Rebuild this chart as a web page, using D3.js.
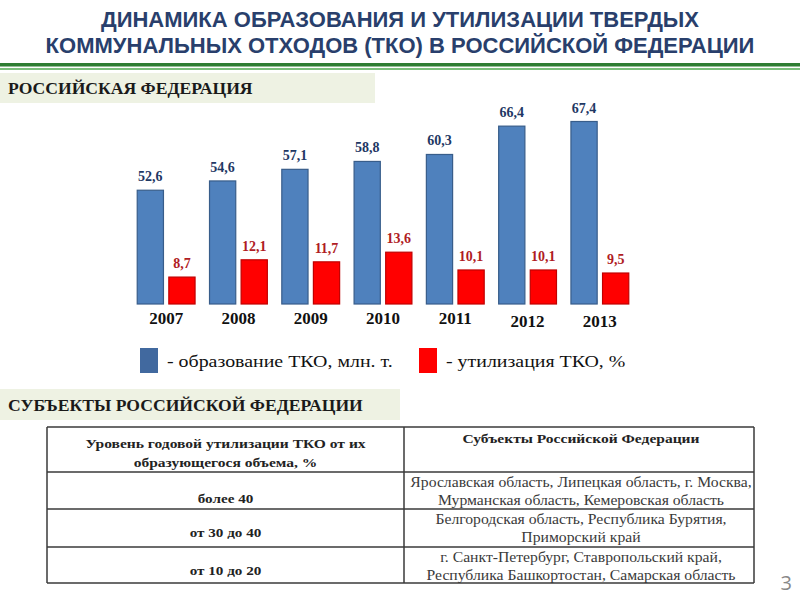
<!DOCTYPE html>
<html>
<head>
<meta charset="utf-8">
<script src="https://d3js.org/d3.v7.min.js"></script>
<style>
  body { margin: 0; background: #fff; }
  svg { display: block; }
</style>
</head>
<body>
<div id="chart"></div>
<script>
// chart data
var years = ['2007', '2008', '2009', '2010', '2011', '2012', '2013']
var formation = [52.6, 54.6, 57.1, 58.8, 60.3, 66.4, 67.4]   // образование ТКО, млн. т.
var utilization = [8.7, 12.1, 11.7, 13.6, 10.1, 10.1, 9.5]   // утилизация ТКО, %

var titleLines = ['ДИНАМИКА ОБРАЗОВАНИЯ И УТИЛИЗАЦИИ ТВЕРДЫХ', 'КОММУНАЛЬНЫХ ОТХОДОВ (ТКО) В РОССИЙСКОЙ ФЕДЕРАЦИИ']
var legendLabels = ['- образование ТКО, млн. т.', '- утилизация ТКО, %']

// table
var tableHead = [['Уровень годовой утилизации ТКО от их', 'образующегося объема, %'], ['Субъекты Российской Федерации']]
var levels = ['более 40', 'от 30 до 40', 'от 10 до 20']
var regions = [
  ['Ярославская область, Липецкая область, г. Москва,', 'Мурманская область, Кемеровская область'],
  ['Белгородская область, Республика Бурятия,', 'Приморский край'],
  ['г. Санкт-Петербург, Ставропольский край,', 'Республика Башкортостан, Самарская область']
]

var width = 800
var height = 600
var serif = '"Liberation Serif", "Times New Roman", serif'

var svg = d3.select('#chart').append('svg')
  .attr('width', width)
  .attr('height', height)

// the slide text is a bit wider than plain Times, widen it by factor k
function stretch (sel, k) {
  sel.each(function () {
    var w = this.getComputedTextLength()
    d3.select(this).attr('textLength', w * k).attr('lengthAdjust', 'spacingAndGlyphs')
  })
}

// title
svg.append('g').selectAll('text')
  .data(titleLines)
  .enter().append('text')
  .attr('x', 400)
  .attr('y', function (d, i) { return 27 + i * 26 })
  .attr('text-anchor', 'middle')
  .style('font-family', '"Liberation Sans Narrow", "Arial Narrow", sans-serif')
  .style('font-weight', 'bold')
  .style('font-size', '22px')
  .style('fill', '#293f6c')
  .text(function (d) { return d })

// green rule under the title
svg.append('rect').attr('x', 0).attr('y', 63).attr('width', width).attr('height', 3.5).attr('fill', '#2e7d32')
svg.append('rect').attr('x', 0).attr('y', 68).attr('width', width).attr('height', 2).attr('fill', '#7bbf7b')

// section headers
function sectionBox (y, w, h, label) {
  svg.append('rect')
    .attr('x', 0).attr('y', y)
    .attr('width', w).attr('height', h)
    .attr('fill', '#eef2e3')
  svg.append('text')
    .attr('x', 8)
    .attr('y', y + h / 2 + 6)
    .style('font-family', serif)
    .style('font-weight', 'bold')
    .style('font-size', '17px')
    .style('fill', '#1a1a1a')
    .text(label)
    .call(stretch, 1.035)
}
sectionBox(73, 375, 30, 'РОССИЙСКАЯ ФЕДЕРАЦИЯ')
sectionBox(389, 400, 31, 'СУБЪЕКТЫ РОССИЙСКОЙ ФЕДЕРАЦИИ')

// bar chart
var baseY = 304

var x0 = d3.scaleBand()
  .domain(years)
  .range([130, 636])
  .paddingInner(0.2)
  .paddingOuter(0.1)

var x1 = d3.scaleBand()
  .domain(['f', 'u'])
  .range([0, x0.bandwidth()])
  .paddingInner(0.17)

// two value axes, neither starts at zero
var yF = d3.scaleLinear().domain([28.1, 67.4]).range([baseY, baseY - 182.5])
var yU = d3.scaleLinear().domain([3.4, 13.6]).range([baseY, baseY - 51.8])

var rows = years.map(function (y, i) {
  return { year: y, f: formation[i], u: utilization[i] }
})

var groups = svg.append('g').selectAll('.group')
  .data(rows)
  .enter().append('g')
  .attr('class', 'group')
  .attr('transform', function (d) { return 'translate(' + x0(d.year) + ',0)' })

groups.append('rect')
  .attr('x', x1('f'))
  .attr('y', function (d) { return yF(d.f) })
  .attr('width', x1.bandwidth())
  .attr('height', function (d) { return baseY - yF(d.f) })
  .attr('fill', '#4f81bd')
  .attr('stroke', '#385d8a')
  .attr('stroke-width', 1.2)

groups.append('rect')
  .attr('x', x1('u'))
  .attr('y', function (d) { return yU(d.u) })
  .attr('width', x1.bandwidth())
  .attr('height', function (d) { return baseY - yU(d.u) })
  .attr('fill', '#ff0000')
  .attr('stroke', '#c00000')
  .attr('stroke-width', 1.2)

var fmt = function (v) { return d3.format('.1f')(v).replace('.', ',') }

groups.append('text')
  .attr('x', x1('f') + x1.bandwidth() / 2)
  .attr('y', function (d) { return yF(d.f) - 9 })
  .attr('text-anchor', 'middle')
  .style('font-family', serif)
  .style('font-weight', 'bold')
  .style('font-size', '14px')
  .style('fill', '#1f3864')
  .text(function (d) { return fmt(d.f) })

groups.append('text')
  .attr('x', x1('u') + x1.bandwidth() / 2)
  .attr('y', function (d) { return yU(d.u) - 9 })
  .attr('text-anchor', 'middle')
  .style('font-family', serif)
  .style('font-weight', 'bold')
  .style('font-size', '14px')
  .style('fill', '#b01c24')
  .text(function (d) { return fmt(d.u) })

// year labels
groups.append('text')
  .attr('x', x0.bandwidth() / 2)
  .attr('y', function (d, i) { return i > 4 ? 327 : 324 })
  .attr('text-anchor', 'middle')
  .style('font-family', serif)
  .style('font-weight', 'bold')
  .style('font-size', '17px')
  .style('fill', '#111')
  .text(function (d) { return d.year })

// legend
var legend = svg.append('g').selectAll('.legend')
  .data(legendLabels)
  .enter().append('g')
  .attr('class', 'legend')
  .attr('transform', function (d, i) { return 'translate(' + (i === 0 ? 140 : 419) + ',348)' })

legend.append('rect')
  .attr('width', 18)
  .attr('height', 25)
  .attr('fill', function (d, i) { return i === 0 ? '#41699f' : '#ff0000' })

legend.append('text')
  .attr('x', 27)
  .attr('y', 19)
  .style('font-family', serif)
  .style('font-size', '17px')
  .style('fill', '#111')
  .text(function (d) { return d })
  .call(stretch, 1.17)

// table
var tX = [47, 404, 754]
var tY = [427, 472, 509, 547, 583]
var table = svg.append('g')
var lineColor = '#3a3a3a'

tY.forEach(function (y) {
  table.append('line')
    .attr('x1', tX[0]).attr('x2', tX[2])
    .attr('y1', y).attr('y2', y)
    .attr('stroke', lineColor).attr('stroke-width', 1.5)
})
tX.forEach(function (x) {
  table.append('line')
    .attr('x1', x).attr('x2', x)
    .attr('y1', tY[0]).attr('y2', tY[tY.length - 1])
    .attr('stroke', lineColor).attr('stroke-width', 1.5)
})

var cx1 = (tX[0] + tX[1]) / 2
var cx2 = (tX[1] + tX[2]) / 2 + 2

table.selectAll('.head1')
  .data(tableHead[0])
  .enter().append('text')
  .attr('x', cx1)
  .attr('y', function (d, i) { return 448 + i * 19 })
  .attr('text-anchor', 'middle')
  .style('font-family', serif)
  .style('font-weight', 'bold')
  .style('font-size', '13.5px')
  .style('fill', '#222')
  .text(function (d) { return d })
  .call(stretch, 1.15)

table.selectAll('.head2')
  .data(tableHead[1])
  .enter().append('text')
  .attr('x', cx2)
  .attr('y', 443)
  .attr('text-anchor', 'middle')
  .style('font-family', serif)
  .style('font-weight', 'bold')
  .style('font-size', '13.5px')
  .style('fill', '#222')
  .text(function (d) { return d })
  .call(stretch, 1.15)

var levelY = [503, 537, 575]
table.selectAll('.level')
  .data(levels)
  .enter().append('text')
  .attr('x', cx1)
  .attr('y', function (d, i) { return levelY[i] })
  .attr('text-anchor', 'middle')
  .style('font-family', serif)
  .style('font-weight', 'bold')
  .style('font-size', '13.5px')
  .style('fill', '#222')
  .text(function (d) { return d })
  .call(stretch, 1.12)

regions.forEach(function (lines, r) {
  table.selectAll('.reg' + r)
    .data(lines)
    .enter().append('text')
    .attr('x', cx2)
    .attr('y', function (d, i) { return tY[r + 1] + 15 + i * 18 })
    .attr('text-anchor', 'middle')
    .style('font-family', serif)
    .style('font-size', '14px')
    .style('fill', '#3a3a3a')
    .text(function (d) { return d })
    .call(stretch, 1.12)
})

// slide number
svg.append('text')
  .attr('x', 792)
  .attr('y', 590)
  .attr('text-anchor', 'end')
  .style('font-family', '"Open Sans", sans-serif')
  .style('font-size', '20px')
  .style('fill', '#888')
  .text('3')
</script>
</body>
</html>
